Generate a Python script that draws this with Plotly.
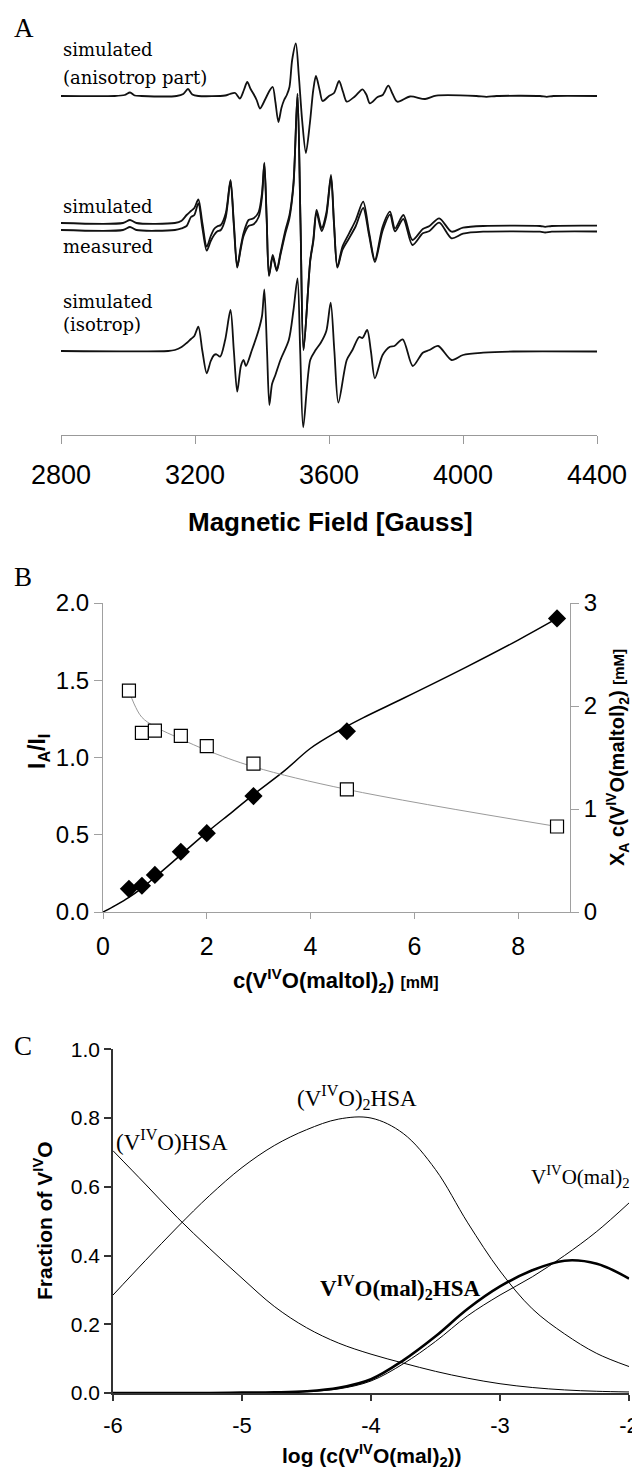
import plotly.graph_objects as go

W, H = 632, 1471


def fx(px):
    return px / W


def fy(py):
    return 1 - py / H


# ---------------- Panel A : EPR spectra (intensity, arbitrary units, + = up) ----------------
field_top = [2800, 2960, 2990, 3006, 3020, 3040, 3145, 3165, 3179, 3192, 3210, 3290, 3304, 3320,
             3334, 3346, 3356, 3366, 3374, 3384, 3394, 3410, 3422, 3432, 3440, 3449, 3458, 3466,
             3474, 3482, 3490, 3501, 3510, 3520, 3531, 3543, 3553, 3561, 3572, 3581, 3600, 3615,
             3630, 3642, 3653, 3677, 3700, 3712, 3722, 3745, 3760, 3777, 3790, 3804, 3842, 3887,
             3920, 4040, 4070, 4100, 4230, 4250, 4270, 4400]
int_top = [0, 0, 1, 3.5, 0.5, 0, 0, 2, 7, 1.5, 0, 0.5, 2, 3,
           -2.5, 6, 14, 7, 2.5, -4, -12.5, -3, 5, 9, -6, -26, -12, -4,
           1, 9, 36, 52.5, 20, -25, -57, -27, 6, 20, 6, -5, 0, 3,
           15, 4, -5.7, -0.5, 6.7, 1, -7.3, -1, 1, 10.3, 2, -5.7, -0.5, -3,
           0.3, 0, -0.8, 0, 0, -0.8, 0, 0]

field_mid = [2800, 2985, 3006, 3025, 3140, 3160, 3175, 3188, 3198, 3210, 3222, 3235, 3247, 3257,
             3266, 3277, 3292, 3306, 3316, 3326, 3336, 3345, 3360, 3375, 3390, 3400, 3407, 3414,
             3421, 3432, 3444, 3455, 3470, 3482, 3494, 3506, 3515, 3524, 3544, 3553, 3563, 3578,
             3592, 3606, 3615, 3625, 3640, 3660, 3680, 3702, 3720, 3737, 3760, 3782, 3797, 3822,
             3849, 3880, 3900, 3929, 3966, 4000, 4060, 4230, 4245, 4265, 4400]
int_sim_mid = [0, 0, 3, 0, 0, 2.3, 8, 12, 15, 23.7, 0, -23.7, -13, -6,
               -3.5, -2, 10, 43, 0, -43.7, -25, -10, 3, 4.7, 11, 30, 60.3, 5,
               -52, -32, -47, -30, -7, 8, 40, 129, 0, -127, -37, -17, 13, -5,
               10, 48, 0, -43.7, -23.7, -10.3, 3, 21.3, -10, -37, -3.7, 11.3, -5.3, 8,
               -17, -6, -3, 4.7, -8.7, -4.7, -3, -3, -3.8, -3, -2.7]
int_meas_mid = [0, 0, 3, 0, 0, 1.7, 4, 13, 15, 26.7, 2, -20.7, -11, -5,
                -1.5, 0, 13, 49, 4, -37.7, -20, -6, 4, 5.7, 13, 33, 66.3, 10,
                -46, -27, -41, -25, -3, 12, 45, 136, 5, -120, -31, -12, 17, -1,
                14, 53, 5, -37.7, -20, -8.3, 4, 22, -6, -32, -0.7, 15.3, -1.3, 11,
                -15, -3.3, -1, 7.3, -8.3, -3.7, -1.7, -1.7, -2.5, -1.7, -1.5]

field_bot = [2800, 3120, 3140, 3160, 3175, 3188, 3198, 3210, 3222, 3235, 3247, 3257, 3264, 3275,
             3290, 3306, 3316, 3326, 3337, 3345, 3352, 3370, 3390, 3400, 3407, 3415, 3422, 3430,
             3440, 3455, 3480, 3494, 3506, 3514, 3523, 3544, 3560, 3575, 3592, 3605, 3616, 3628,
             3653, 3670, 3690, 3700, 3714, 3725, 3737, 3760, 3782, 3795, 3820, 3850, 3880, 3900,
             3926, 3966, 4000, 4060, 4150, 4400]
int_bot = [0, 0, 1, 4, 8, 12, 15, 24.3, 0, -22.3, -10, -4, -3.3, -5.7,
           11, 41, 0, -40.7, -15, -9, -15, 1, 21, 35, 61.7, 0, -54, -33,
           -24, -9, 11, 41, 72.7, 0, -76.3, -9, 1, 8, 20, 48.3, 0, -51.7,
           -9, 1, 14, 13, 21, 0, -27.3, -4, 4.3, 5, 11.7, -15, -1.7, 1,
           5, -9, -4, -1.7, -0.5, -0.5]

field_ticks = [2800, 3200, 3600, 4000, 4400]

# ---------------- Panel B ----------------
conc = [0.5, 0.75, 1.0, 1.5, 2.0, 2.9, 4.7, 8.75]
ratio_IA_II = [0.15, 0.17, 0.24, 0.39, 0.51, 0.75, 1.17, 1.90]
xa_conc = [2.15, 1.74, 1.76, 1.71, 1.61, 1.44, 1.19, 0.83]
fit_conc = [0, 0.25, 0.5, 0.75, 1.0, 1.5, 2.0, 2.5, 2.9, 3.5, 4.0, 4.5, 5.0, 5.8, 7.0, 8.0, 8.75]
fit_ratio = [0, 0.045, 0.095, 0.155, 0.225, 0.37, 0.515, 0.65, 0.76, 0.915, 1.06, 1.165, 1.255,
             1.385, 1.585, 1.76, 1.90]
gray_conc = [0.5, 0.6, 0.75, 1.0, 1.5, 2.0, 2.9, 4.7, 8.75]
gray_xa = [2.15, 2.02, 1.89, 1.80, 1.68, 1.57, 1.41, 1.19, 0.83]

# ---------------- Panel C ----------------
log_c = [-6, -5.75, -5.5, -5.25, -5, -4.75, -4.5, -4.25, -4, -3.75, -3.5, -3.25, -3, -2.75,
         -2.5, -2.25, -2]
frac_vo_hsa = [0.705, 0.608, 0.51, 0.42, 0.334, 0.252, 0.19, 0.145, 0.113, 0.087, 0.063, 0.043,
               0.027, 0.016, 0.009, 0.005, 0.003]
frac_vo2_hsa = [0.285, 0.385, 0.483, 0.575, 0.656, 0.72, 0.766, 0.797, 0.80, 0.755, 0.65, 0.495,
                0.355, 0.245, 0.172, 0.115, 0.077]
frac_mal2 = [0, 0, 0, 0, 0.001, 0.002, 0.004, 0.012, 0.035, 0.085, 0.15, 0.225, 0.285, 0.338,
             0.40, 0.47, 0.553]
frac_mal2_hsa = [0, 0, 0, 0, 0.001, 0.002, 0.005, 0.015, 0.04, 0.095, 0.165, 0.245, 0.31, 0.357,
                 0.385, 0.376, 0.333]

SANS = "Liberation Sans, Arial, sans-serif"
SERIF = "Liberation Serif, Times New Roman, serif"
CSERIF = "DejaVu Serif, serif"

fig = go.Figure()

# Panel A traces (stacked with offsets in pixel-like units of the hidden y axis)
A_BASE_PX = 435
offs = {"top": A_BASE_PX - 96, "sim": A_BASE_PX - 223, "meas": A_BASE_PX - 230, "bot": A_BASE_PX - 351}
for fld, inten, key in [(field_top, int_top, "top"), (field_mid, int_sim_mid, "sim"),
                        (field_mid, int_meas_mid, "meas"), (field_bot, int_bot, "bot")]:
    fig.add_trace(go.Scatter(x=fld, y=[offs[key] + v for v in inten], mode="lines",
                             line=dict(color="#111111", width=1.8, shape="spline", smoothing=0.8),
                             xaxis="x", yaxis="y", hoverinfo="skip"))

# Panel B traces
fig.add_trace(go.Scatter(x=gray_conc, y=gray_xa, mode="lines",
                         line=dict(color="#9a9a9a", width=1, shape="spline"),
                         xaxis="x2", yaxis="y3"))
fig.add_trace(go.Scatter(x=conc, y=xa_conc, mode="markers",
                         marker=dict(symbol="square", size=13, color="white",
                                     line=dict(color="black", width=1.2)),
                         xaxis="x2", yaxis="y3"))
fig.add_trace(go.Scatter(x=fit_conc, y=fit_ratio, mode="lines",
                         line=dict(color="black", width=1.5, shape="spline"),
                         xaxis="x2", yaxis="y2"))
fig.add_trace(go.Scatter(x=conc, y=ratio_IA_II, mode="markers",
                         marker=dict(symbol="diamond", size=14, color="black"),
                         xaxis="x2", yaxis="y2"))

# Panel C traces
for vals, wd in [(frac_vo_hsa, 1), (frac_vo2_hsa, 1), (frac_mal2, 1), (frac_mal2_hsa, 2.6)]:
    fig.add_trace(go.Scatter(x=log_c, y=vals, mode="lines",
                             line=dict(color="black", width=wd, shape="spline"),
                             xaxis="x3", yaxis="y4"))

gray_axis = dict(showgrid=False, zeroline=False, showline=True, linecolor="#a0a0a0", linewidth=1,
                 ticks="outside", tickcolor="#a0a0a0", tickwidth=1, automargin=False)

fig.update_layout(
    template="none",
    width=W, height=H, margin=dict(l=0, r=0, t=0, b=0, pad=0, autoexpand=False),
    paper_bgcolor="white", plot_bgcolor="white", showlegend=False,
    xaxis=dict(domain=[fx(61), fx(597)], range=[2800, 4400], anchor="y",
               tickvals=field_ticks, ticklen=8, ticklabelstandoff=8, automargin=False,
               ticklabeloverflow="allow",
               tickfont=dict(family=SANS, size=27, color="black"),
               showgrid=False, zeroline=False, showline=True, linecolor="#999999",
               ticks="outside", tickcolor="#999999"),
    yaxis=dict(domain=[fy(435), 1], range=[0, 435], visible=False, anchor="x", automargin=False),
    xaxis2=dict(domain=[fx(103), fx(570)], range=[0, 9], anchor="y2",
                tickvals=[0, 2, 4, 6, 8], ticklen=6, ticklabelstandoff=6,
                tickfont=dict(family=SANS, size=25, color="black"), **gray_axis),
    yaxis2=dict(domain=[fy(912), fy(603)], range=[0, 2], anchor="x2",
                tickvals=[0, 0.5, 1.0, 1.5, 2.0], ticktext=["0.0", "0.5", "1.0", "1.5", "2.0"],
                ticklen=8, tickfont=dict(family=SANS, size=24, color="black"), **gray_axis),
    yaxis3=dict(range=[0, 3], anchor="x2", overlaying="y2", side="right",
                tickvals=[0, 1, 2, 3], ticklen=8,
                tickfont=dict(family=SANS, size=24, color="black"), **gray_axis),
    xaxis3=dict(domain=[fx(113), fx(629.3)], range=[-6, -1.998], anchor="y4",
                tickvals=[-6, -5, -4, -3, -2], ticktext=["-6", "-5", "-4", "-3", "-2"],
                ticklen=6, ticklabelstandoff=6, automargin=False, ticklabeloverflow="allow",
                tickfont=dict(family=SANS, size=22, color="black"),
                showgrid=False, zeroline=False, showline=True, linecolor="#333333", linewidth=1.5,
                ticks="outside", tickcolor="#333333", tickwidth=1.5),
    yaxis4=dict(domain=[fy(1393), fy(1049.3)], range=[0, 1], anchor="x3",
                tickvals=[0, 0.2, 0.4, 0.6, 0.8, 1.0], tickformat=".1f", ticklen=7, automargin=False,
                tickfont=dict(family=SANS, size=21, color="black"),
                showgrid=False, zeroline=False, showline=True, linecolor="#333333", linewidth=1.5,
                ticks="outside", tickcolor="#333333", tickwidth=1.5),
)


def ann(text, x, y, size, family, xanchor="left", yanchor="middle", angle=0, color="black"):
    fig.add_annotation(text=text, x=fx(x), y=fy(y), xref="paper", yref="paper",
                       xanchor=xanchor, yanchor=yanchor, showarrow=False, textangle=angle,
                       font=dict(size=size, family=family, color=color))


# panel letters
ann("A", 12, 28, 27, SERIF)
ann("B", 12, 577, 27, SERIF)
ann("C", 12, 1046, 27, SERIF)

# panel A labels
ann("simulated", 61, 49, 18, CSERIF)
ann("(anisotrop part)", 61, 77, 18, CSERIF)
ann("simulated", 61, 206, 18, CSERIF)
ann("measured", 61, 247, 18, CSERIF)
ann("simulated", 61, 301, 18, CSERIF)
ann("(isotrop)", 61, 324, 18, CSERIF)
ann("<b>Magnetic Field [Gauss]</b>", 330, 522, 26, SANS, xanchor="center")

# panel B titles
ann("<b>I<sub>A</sub>/I<sub>I</sub></b>", 38, 752, 23, SANS, xanchor="center", angle=-90)
ann("<b>X<sub>A</sub> c(V<sup>IV</sup>O(maltol)<sub>2</sub>) <span style='font-size:15px'>[mM]</span></b>",
    617, 758, 20, SANS, xanchor="center", angle=-90)
ann("<b>c(V<sup>IV</sup>O(maltol)<sub>2</sub>) <span style='font-size:16px'>[mM]</span></b>",
    336, 981, 22, SANS, xanchor="center")

# panel C titles and labels
ann("<b>Fraction of V<sup>IV</sup>O</b>", 43, 1221, 21, SANS, xanchor="center", angle=-90)
ann("<b>log (c(V<sup>IV</sup>O(mal)<sub>2</sub>))</b>", 372, 1455, 21, SANS, xanchor="center")
ann("(V<sup>IV</sup>O)HSA", 114, 1140, 23, SERIF)
ann("(V<sup>IV</sup>O)<sub>2</sub>HSA", 357, 1097, 23, SERIF, xanchor="center")
ann("V<sup>IV</sup>O(mal)<sub>2</sub>", 529, 1176, 21, SERIF)
ann("<b>V<sup>IV</sup>O(mal)<sub>2</sub>HSA</b>", 318, 1287, 23, SERIF)

fig.write_html("out.html")
